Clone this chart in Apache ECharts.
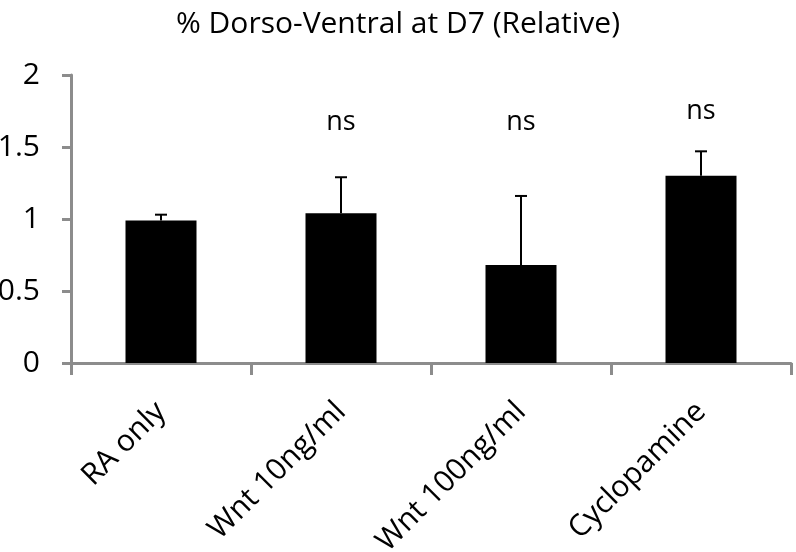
<!DOCTYPE html>
<html>
<head>
<meta charset="utf-8">
<script src="https://cdn.jsdelivr.net/npm/echarts@6/dist/echarts.min.js"></script>
<style>
html,body{margin:0;padding:0;background:#fff;}
#chart{width:796px;height:552px;}
</style>
</head>
<body>
<div id="chart"></div>
<script>
var titleText = '% Dorso-Ventral at D7 (Relative)';
var categories = ['RA only', 'Wnt 10ng/ml', 'Wnt 100ng/ml', 'Cyclopamine'];
var means = [0.99, 1.04, 0.68, 1.30];
var errorUpper = [1.03, 1.29, 1.16, 1.47];
var sigLabels = ['', 'ns', 'ns', 'ns'];
var sigPositions = [null, 1.67, 1.67, 1.75];
var yTicks = [0, 0.5, 1, 1.5, 2];

var FONT = '"Open Sans", "Noto Sans", sans-serif';
var AXIS_COLOR = '#8c8c8c';

var chart = echarts.init(document.getElementById('chart'), null, {renderer: 'canvas'});

var errData = categories.map(function (c, i) { return [i, means[i], errorUpper[i]]; });
var sigData = [];
categories.forEach(function (c, i) {
  if (sigLabels[i]) sigData.push([i, sigPositions[i], sigLabels[i]]);
});

var option = {
  backgroundColor: '#ffffff',
  animation: false,
  title: {
    text: titleText,
    left: 'center',
    top: 4,
    textStyle: {fontFamily: FONT, fontSize: 30, fontWeight: 'normal', color: '#000'}
  },
  grid: {left: 71, right: 5, top: 75, bottom: 189, containLabel: false, outerBoundsMode: 'none'},
  xAxis: {
    type: 'category',
    data: categories,
    axisLine: {show: true, lineStyle: {color: AXIS_COLOR, width: 3}},
    axisTick: {show: true, alignWithLabel: false, length: 12, lineStyle: {color: AXIS_COLOR, width: 3}},
    axisLabel: {
      rotate: 45,
      margin: 44,
      interval: 0,
      fontFamily: FONT,
      fontSize: 30,
      color: '#000'
    },
    splitLine: {show: false}
  },
  yAxis: {
    type: 'value',
    min: yTicks[0],
    max: yTicks[yTicks.length - 1],
    interval: 0.5,
    axisLine: {show: true, lineStyle: {color: AXIS_COLOR, width: 3}},
    axisTick: {show: true, inside: false, length: 9, lineStyle: {color: AXIS_COLOR, width: 3}},
    axisLabel: {
      margin: 31,
      fontFamily: FONT,
      fontSize: 30,
      color: '#000',
      formatter: function (v) { return String(v); }
    },
    splitLine: {show: false}
  },
  series: [
    {
      type: 'bar',
      data: means,
      barWidth: 71,
      itemStyle: {color: '#000000'},
      z: 2
    },
    {
      type: 'custom',
      data: errData,
      z: 3,
      renderItem: function (params, api) {
        var x = api.value(0);
        var base = api.coord([x, api.value(1)]);
        var top = api.coord([x, api.value(2)]);
        var half = 6;
        var st = {stroke: '#000', lineWidth: 2};
        return {
          type: 'group',
          children: [
            {type: 'line', shape: {x1: base[0], y1: base[1], x2: top[0], y2: top[1]}, style: st},
            {type: 'line', shape: {x1: top[0] - half, y1: top[1], x2: top[0] + half, y2: top[1]}, style: st}
          ]
        };
      }
    },
    {
      type: 'custom',
      data: sigData,
      z: 4,
      renderItem: function (params, api) {
        var p = api.coord([api.value(0), api.value(1)]);
        return {
          type: 'text',
          x: p[0],
          y: p[1],
          style: {
            text: sigData[params.dataIndex][2],
            fill: '#000',
            font: '27px ' + FONT,
            align: 'center',
            verticalAlign: 'middle'
          }
        };
      }
    }
  ]
};

chart.setOption(option);
</script>
</body>
</html>
